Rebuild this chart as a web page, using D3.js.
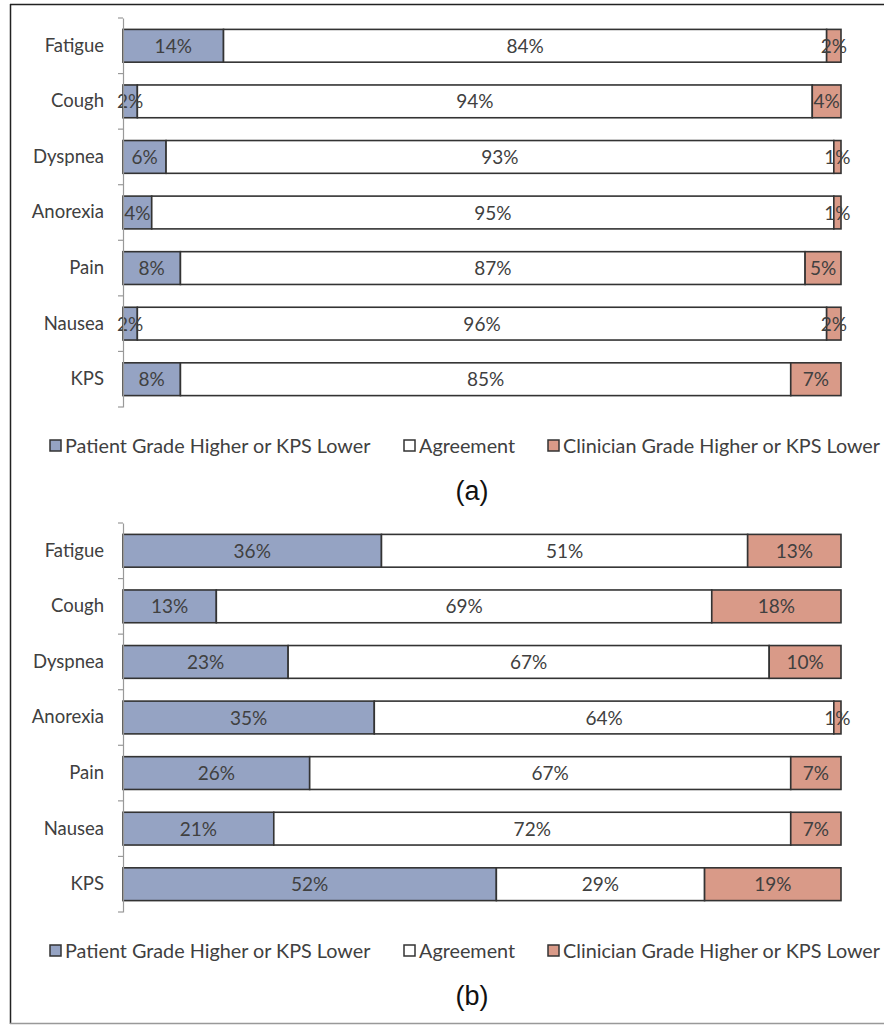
<!DOCTYPE html>
<html>
<head>
<meta charset="utf-8">
<script src="https://cdn.jsdelivr.net/npm/d3@7"></script>
<style>
  body { margin: 0; background: #fff; }
  svg { display: block; }
  text { font-family: Lato, "Open Sans", sans-serif; fill: #404040; }
</style>
</head>
<body>
<svg id="chart" width="884" height="1026"></svg>
<script>
const categories = ["Fatigue", "Cough", "Dyspnea", "Anorexia", "Pain", "Nausea", "KPS"];
const seriesNames = ["Patient Grade Higher or KPS Lower", "Agreement", "Clinician Grade Higher or KPS Lower"];
// panel (a)
const patientA = [14, 2, 6, 4, 8, 2, 8];
const agreeA = [84, 94, 93, 95, 87, 96, 85];
const clinicianA = [2, 4, 1, 1, 5, 2, 7];
// panel (b)
const patientB = [36, 13, 23, 35, 26, 21, 52];
const agreeB = [51, 69, 67, 64, 67, 72, 29];
const clinicianB = [13, 18, 10, 1, 7, 7, 19];

const colors = ["#95a3c3", "#ffffff", "#d99a88"];

const svg = d3.select("#chart");

// outer frame
svg.append("line").attr("x1", 10).attr("x2", 884).attr("y1", 4.5).attr("y2", 4.5)
  .attr("stroke", "#222").attr("stroke-width", 1.5);
svg.append("line").attr("x1", 10.5).attr("x2", 10.5).attr("y1", 4).attr("y2", 1024)
  .attr("stroke", "#222").attr("stroke-width", 1.5);
svg.append("line").attr("x1", 10).attr("x2", 884).attr("y1", 1023.5).attr("y2", 1023.5)
  .attr("stroke", "#999").attr("stroke-width", 1.5);

function drawPanel(top, p, a, c, tag) {
  const g = svg.append("g");
  const x = d3.scaleLinear().domain([0, 100]).range([123, 841]);
  const y = d3.scaleBand().domain(categories).range([top, top + 389]).paddingInner(0.41).paddingOuter(0.205);

  const rows = categories.map((cat, i) => {
    const vals = [p[i], a[i], c[i]];
    let acc = 0;
    return vals.map((v, k) => {
      const seg = { cat, k, v, x0: acc, x1: acc + v };
      acc += v;
      return seg;
    });
  }).flat();

  g.selectAll("rect.seg").data(rows).enter().append("rect")
    .attr("class", "seg")
    .attr("x", d => x(d.x0))
    .attr("y", d => y(d.cat))
    .attr("width", d => x(d.x1) - x(d.x0))
    .attr("height", y.bandwidth())
    .attr("fill", d => colors[d.k])
    .attr("stroke", "#333")
    .attr("stroke-width", 1.6);

  g.selectAll("text.val").data(rows).enter().append("text")
    .attr("class", "val")
    .attr("x", d => (x(d.x0) + x(d.x1)) / 2)
    .attr("y", d => y(d.cat) + y.bandwidth() / 2 + 7)
    .attr("text-anchor", "middle")
    .style("font-size", "19px")
    .text(d => d.v + "%");

  // vertical axis
  const axis = g.append("g").attr("transform", "translate(123,0)")
    .call(d3.axisLeft(y).tickSize(0).tickPadding(19).tickFormat(d => d));
  axis.select(".domain").attr("stroke", "#999").attr("stroke-width", 1.2);
  axis.selectAll("text").style("font-size", "18.5px").attr("fill", "#404040")
    .style("font-family", "Lato, 'Open Sans', sans-serif");
  const ticks = d3.range(categories.length + 1).map(i => top + i * 389 / categories.length);
  g.selectAll("line.tk").data(ticks).enter().append("line")
    .attr("x1", 118).attr("x2", 123)
    .attr("y1", d => d).attr("y2", d => d)
    .attr("stroke", "#999").attr("stroke-width", 1.2);

  // legend
  const legX = [50, 404, 548];
  const ly = top + 422;
  const leg = g.selectAll("g.leg").data(seriesNames).enter().append("g")
    .attr("class", "leg")
    .attr("transform", (d, i) => `translate(${legX[i]},${ly})`);
  leg.append("rect").attr("x", 0).attr("y", 0).attr("width", 11).attr("height", 11)
    .attr("fill", (d, i) => colors[i]).attr("stroke", "#333").attr("stroke-width", 1.5);
  leg.append("text").attr("x", 15).attr("y", 12.5)
    .style("font-size", "19.8px")
    .text(d => d);

  svg.append("text").attr("x", 472).attr("y", top + 482)
    .attr("text-anchor", "middle")
    .style("font-family", "'Liberation Sans', Arial, sans-serif")
    .style("font-size", "27px")
    .style("fill", "#111")
    .text(tag);
}

drawPanel(18, patientA, agreeA, clinicianA, "(a)");
drawPanel(523, patientB, agreeB, clinicianB, "(b)");
</script>
</body>
</html>
